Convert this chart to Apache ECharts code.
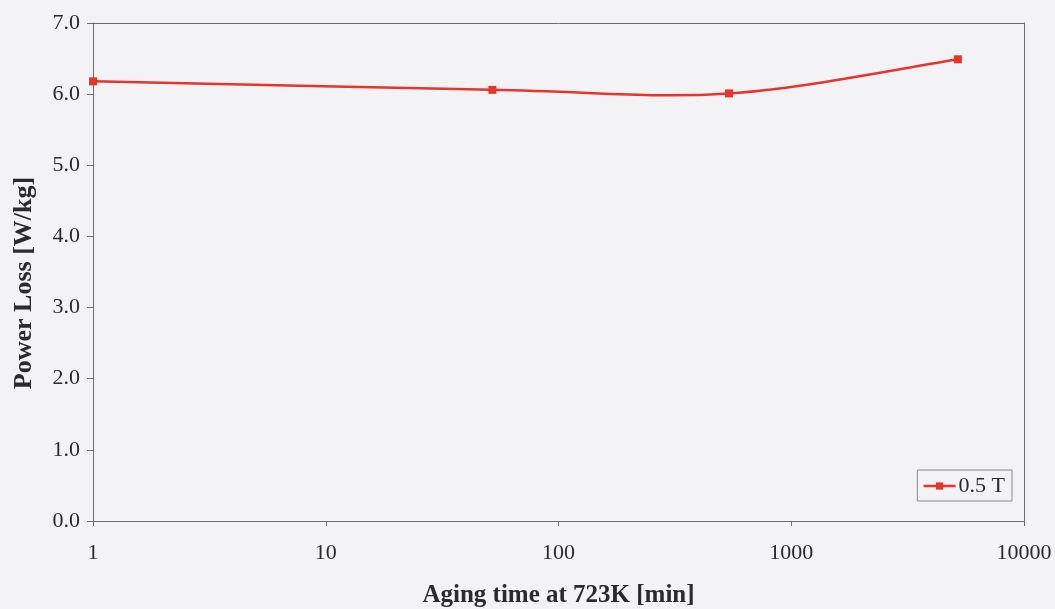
<!DOCTYPE html>
<html>
<head>
<meta charset="utf-8">
<script src="https://cdn.jsdelivr.net/npm/echarts@6/dist/echarts.min.js"></script>
<style>
  html, body { margin: 0; padding: 0; background: #f3f3f5; }
  #chart { width: 1055px; height: 609px; }
</style>
</head>
<body>
<div id="chart"></div>
<script>
// Aging time (min) and measured power loss (W/kg) at 0.5 T
const agingTime = [1, 52, 540, 5200];
const powerLoss = [6.18, 6.06, 6.01, 6.49];
const seriesName = '0.5 T';
const xTitle = 'Aging time at 723K [min]';
const yTitle = 'Power Loss [W/kg]';

const font = '"Liberation Serif", "Times New Roman", serif';
const textColor = '#2b2b2b';
const axisColor = '#6e6e72';
const lineColor = '#e5352c';

const points = agingTime.map((t, i) => [t, powerLoss[i]]);

// Smoothed curve through the points (Catmull-Rom style cubic Bezier),
// positioned via the axis scales with api.coord.
function renderCurve(params, api) {
  if (params.dataIndex !== 0) return null;
  const p = points.map(d => api.coord(d));
  const n = p.length;
  const at = i => p[Math.max(0, Math.min(n - 1, i))];
  let d = 'M' + p[0][0] + ' ' + p[0][1];
  for (let i = 0; i < n - 1; i++) {
    const p0 = at(i - 1), p1 = at(i), p2 = at(i + 1), p3 = at(i + 2);
    const c1x = p1[0] + (p2[0] - p0[0]) / 6, c1y = p1[1] + (p2[1] - p0[1]) / 6;
    const c2x = p2[0] - (p3[0] - p1[0]) / 6, c2y = p2[1] - (p3[1] - p1[1]) / 6;
    d += ' C' + c1x + ' ' + c1y + ' ' + c2x + ' ' + c2y + ' ' + p2[0] + ' ' + p2[1];
  }
  return {
    type: 'path',
    shape: { pathData: d },
    style: { fill: 'none', stroke: lineColor, lineWidth: 2.5 }
  };
}

const chart = echarts.init(document.getElementById('chart'));
chart.setOption({
  backgroundColor: '#f3f3f5',
  animation: false,
  grid: { left: 93, right: 31, top: 23, bottom: 88, show: false, outerBoundsMode: 'none', containLabel: false },
  legend: {
    data: [seriesName],
    right: 43,
    top: 470,
    orient: 'vertical',
    itemWidth: 32,
    itemHeight: 9,
    itemGap: 0,
    padding: [5, 7, 4, 5],
    borderColor: '#8a8a8e',
    borderWidth: 1,
    lineStyle: { color: lineColor, width: 2.5, opacity: 1 },
    textStyle: { fontFamily: font, fontSize: 22, color: textColor, padding: [0, 0, 0, -2] }
  },
  graphic: [{
    // y-axis title, rotated
    type: 'text',
    x: 24,
    y: 283,
    rotation: Math.PI / 2,
    style: {
      text: yTitle,
      font: 'bold 26px ' + font,
      fill: textColor,
      align: 'center',
      verticalAlign: 'middle'
    }
  }],
  xAxis: {
    type: 'log',
    logBase: 10,
    min: 1,
    max: 10000,
    name: xTitle,
    nameLocation: 'middle',
    nameGap: 62,
    nameTextStyle: { fontFamily: font, fontSize: 25, fontWeight: 'bold', color: textColor },
    axisLine: { show: true, lineStyle: { color: axisColor, width: 1 } },
    axisTick: { show: true, inside: false, length: 5, lineStyle: { color: axisColor } },
    minorTick: { show: false },
    splitLine: { show: false },
    axisLabel: {
      fontFamily: font, fontSize: 22, color: textColor, margin: 21,
      formatter: v => String(Math.round(v))
    }
  },
  yAxis: [{
    type: 'value',
    min: 0,
    max: 7,
    interval: 1,
    axisLine: { show: true, lineStyle: { color: axisColor, width: 1 } },
    axisTick: { show: true, inside: false, length: 6, lineStyle: { color: axisColor } },
    splitLine: { show: false },
    axisLabel: {
      fontFamily: font, fontSize: 22, color: textColor, margin: 13,
      formatter: v => v.toFixed(1)
    }
  }, {
    // right-hand frame edge
    type: 'value',
    min: 0,
    max: 7,
    position: 'right',
    axisLine: { show: true, onZero: false, lineStyle: { color: axisColor, width: 1 } },
    axisTick: { show: false },
    axisLabel: { show: false },
    splitLine: { show: false }
  }],
  series: [{
    name: seriesName,
    type: 'line',
    data: points,
    symbol: 'rect',
    symbolSize: 8,
    z: 3,
    itemStyle: { color: lineColor },
    lineStyle: { color: lineColor, width: 2.5, opacity: 0 },
    markLine: {
      // top frame edge
      silent: true,
      symbol: 'none',
      label: { show: false },
      lineStyle: { color: axisColor, width: 1, type: 'solid', opacity: 1 },
      data: [{ yAxis: 7 }]
    }
  }, {
    name: 'curve',
    type: 'custom',
    data: points,
    z: 2,
    silent: true,
    renderItem: renderCurve
  }]
});
</script>
</body>
</html>
